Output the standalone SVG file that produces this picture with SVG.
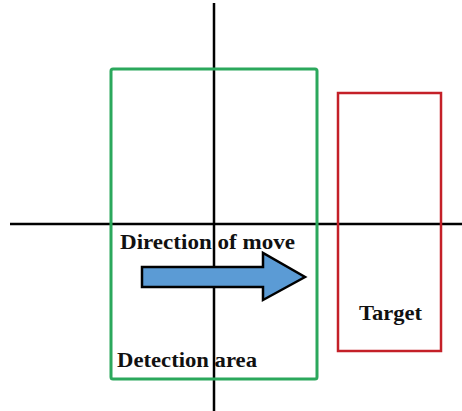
<svg xmlns="http://www.w3.org/2000/svg" width="462" height="411" viewBox="0 0 462 411">
<style>
.axis{stroke:#000;stroke-width:2.5;fill:none}
.lbl{font-family:"Liberation Serif","Times New Roman",serif;font-weight:bold;font-size:21px;fill:#111}
</style>
<rect width="462" height="411" fill="#fff"/>
<g id="axes">
<line class="axis" x1="10" y1="224" x2="462" y2="224"/>
<line class="axis" x1="214" y1="3" x2="214" y2="411"/>
</g>
<g id="detection-area">
<rect x="111" y="69" width="206" height="310" rx="2" fill="none" stroke="#2ba85c" stroke-width="3"/>
<text class="lbl" x="117" y="367" textLength="140" lengthAdjust="spacingAndGlyphs">Detection area</text>
</g>
<g id="target">
<rect x="338" y="93" width="103" height="258" fill="none" stroke="#c42028" stroke-width="2.5"/>
<text class="lbl" x="359" y="320" textLength="63" lengthAdjust="spacingAndGlyphs">Target</text>
</g>
<g id="direction">
<path d="M142,267 H263 V253 L305,277 L263,300 V287 H142 Z" fill="#5b9bd5" stroke="#000" stroke-width="2.5" stroke-linejoin="miter"/>
<text class="lbl" x="120" y="249" textLength="175" lengthAdjust="spacingAndGlyphs">Direction of move</text>
</g>
</svg>
